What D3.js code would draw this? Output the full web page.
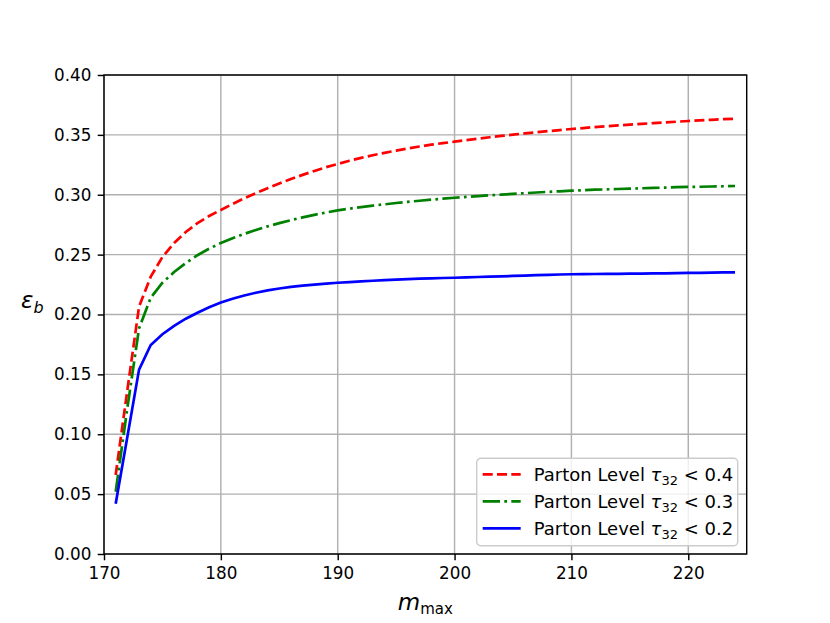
<!DOCTYPE html>
<html>
<head>
<meta charset="utf-8">
<script src="https://cdn.jsdelivr.net/npm/d3@7"></script>
<style>
    body { margin: 0; background: #fff; }
    svg { font-family: "DejaVu Sans", sans-serif; }
</style>
</head>
<body>
<script>
// m_max values, one point per GeV
var masses = d3.range(171, 225);

// efficiency for tau32 < 0.4 (red dashed)
var effTau04 = [0.066, 0.137, 0.2065, 0.2316, 0.2480, 0.2597, 0.2689, 0.2763, 0.2823, 0.2873,
    0.2923, 0.2970, 0.3014, 0.3055, 0.3094, 0.3131, 0.3166, 0.3199, 0.3230, 0.3257,
    0.3284, 0.3308, 0.3330, 0.3350, 0.3369, 0.3387, 0.3403, 0.3418, 0.3431, 0.3443,
    0.3456, 0.3468, 0.3480, 0.3491, 0.3502, 0.3512, 0.3522, 0.3531, 0.3540, 0.3549,
    0.3557, 0.3565, 0.3572, 0.3579, 0.3586, 0.3592, 0.3598, 0.3604, 0.3610, 0.3616,
    0.3621, 0.3626, 0.3631, 0.3635];

// efficiency for tau32 < 0.3 (green dash-dot)
var effTau03 = [0.052, 0.122, 0.1885, 0.2140, 0.2265, 0.2355, 0.2430, 0.2495, 0.2550, 0.2597,
    0.2637, 0.2673, 0.2706, 0.2736, 0.2763, 0.2788, 0.2811, 0.2832, 0.2852, 0.2870,
    0.2884, 0.2897, 0.2909, 0.2920, 0.2931, 0.2941, 0.2950, 0.2959, 0.2967, 0.2975,
    0.2982, 0.2989, 0.2995, 0.3001, 0.3007, 0.3013, 0.3019, 0.3024, 0.3029, 0.3034,
    0.3038, 0.3042, 0.3045, 0.3048, 0.3051, 0.3054, 0.3057, 0.3060, 0.3063, 0.3065,
    0.3067, 0.3069, 0.3071, 0.3073];

// efficiency for tau32 < 0.2 (blue solid)
var effTau02 = [0.042, 0.098, 0.154, 0.1745, 0.1835, 0.1905, 0.1965, 0.2015, 0.2060, 0.2100,
    0.2132, 0.2159, 0.2182, 0.2201, 0.2217, 0.2230, 0.2241, 0.2250, 0.2258, 0.2265,
    0.2271, 0.2277, 0.2282, 0.2287, 0.2291, 0.2295, 0.2299, 0.2302, 0.2305, 0.2307,
    0.2310, 0.2313, 0.2316, 0.2319, 0.2322, 0.2325, 0.2328, 0.2331, 0.2334, 0.2336,
    0.2337, 0.2338, 0.2339, 0.2340, 0.2341, 0.2342, 0.2343, 0.2344, 0.2345, 0.2347,
    0.2348, 0.2349, 0.2351, 0.2352];

var xTicks = [170, 180, 190, 200, 210, 220];
var yTicks = [0, 0.05, 0.10, 0.15, 0.20, 0.25, 0.30, 0.35, 0.40];

var seriesCuts = ["0.4", "0.3", "0.2"];
var seriesValues = [effTau04, effTau03, effTau02];
var seriesColors = ["#ff0000", "#008000", "#0000ff"];
var seriesDashes = ["10,4.3", "17.3,4.3,2.7,4.3", null];

var margin = {top: 75, right: 83.3, bottom: 69, left: 104},
    width = 830 - margin.left - margin.right,
    height = 623 - margin.top - margin.bottom;

var svg = d3.select("body")
    .append("svg")
    .attr("width", 830)
    .attr("height", 623);

var plot = svg.append("g")
    .attr("transform", "translate(" + margin.left + "," + margin.top + ")");

var x = d3.scaleLinear().domain([170, 225]).range([0, width]);
var y = d3.scaleLinear().domain([0, 0.40]).range([height, 0]);

// grid lines
plot.append("g").selectAll("line")
    .data(xTicks)
    .enter().append("line")
    .attr("x1", function(d) { return x(d); })
    .attr("x2", function(d) { return x(d); })
    .attr("y1", 0)
    .attr("y2", height)
    .attr("stroke", "#b0b0b0")
    .attr("stroke-width", 1.44);

plot.append("g").selectAll("line")
    .data(yTicks)
    .enter().append("line")
    .attr("x1", 0)
    .attr("x2", width)
    .attr("y1", function(d) { return y(d); })
    .attr("y2", function(d) { return y(d); })
    .attr("stroke", "#b0b0b0")
    .attr("stroke-width", 1.44);

// the three curves
var line = d3.line()
    .x(function(d, i) { return x(masses[i]); })
    .y(function(d) { return y(d); });

seriesValues.forEach(function(vals, i) {
    plot.append("path")
        .datum(vals)
        .attr("fill", "none")
        .attr("stroke", seriesColors[i])
        .attr("stroke-width", 2.7)
        .attr("stroke-dasharray", seriesDashes[i])
        .attr("d", line);
});

// axes
var xAxis = d3.axisBottom(x)
    .tickValues(xTicks)
    .tickSize(6.3)
    .tickPadding(6.3)
    .tickFormat(d3.format("d"));

var yAxis = d3.axisLeft(y)
    .tickValues(yTicks)
    .tickSize(6.3)
    .tickPadding(6.3)
    .tickFormat(d3.format(".2f"));

var gx = plot.append("g")
    .attr("transform", "translate(0," + height + ")")
    .call(xAxis);

var gy = plot.append("g")
    .call(yAxis);

[gx, gy].forEach(function(g) {
    g.attr("font-family", "DejaVu Sans").attr("font-size", 16.8);
    g.select(".domain").remove();
    g.selectAll(".tick line").attr("stroke", "#000").attr("stroke-width", 1.44);
    g.selectAll(".tick text").attr("fill", "#000");
});

// frame
plot.append("rect")
    .attr("width", width)
    .attr("height", height)
    .attr("fill", "none")
    .attr("stroke", "#000")
    .attr("stroke-width", 1.44);

// axis labels
var xLabel = svg.append("text")
    .attr("x", margin.left + width / 2)
    .attr("y", 610)
    .attr("text-anchor", "middle")
    .style("font-size", "23px");
xLabel.append("tspan").style("font-style", "italic").text("m");
xLabel.append("tspan").attr("dy", 4).style("font-size", "15px").text("max");

var yLabel = svg.append("text")
    .attr("x", 21)
    .attr("y", 308)
    .style("font-size", "23px");
yLabel.append("tspan").style("font-style", "italic").text("ε");
yLabel.append("tspan").attr("dy", 5).style("font-size", "16px").style("font-style", "italic").text("b");

// legend
var legend = plot.append("g")
    .attr("transform", "translate(" + (476.7 - margin.left) + "," + (458.3 - margin.top) + ")");

legend.append("rect")
    .attr("width", 261)
    .attr("height", 87.4)
    .attr("rx", 4)
    .attr("fill", "#fff")
    .attr("fill-opacity", 0.8)
    .attr("stroke", "#cccccc")
    .attr("stroke-width", 1.44);

var rows = legend.selectAll(".legend")
    .data(seriesCuts)
    .enter().append("g")
    .attr("class", "legend")
    .attr("transform", function(d, i) { return "translate(0," + (16 + i * 27) + ")"; });

rows.append("line")
    .attr("x1", 6)
    .attr("x2", 44)
    .attr("stroke", function(d, i) { return seriesColors[i]; })
    .attr("stroke-width", 2.7)
    .attr("stroke-dasharray", function(d, i) { return seriesDashes[i]; });

var rowText = rows.append("text")
    .attr("x", 57)
    .attr("y", 6.5)
    .style("font-size", "18px");
rowText.append("tspan").text("Parton Level ");
rowText.append("tspan").style("font-style", "italic").text("τ");
rowText.append("tspan").attr("dy", 4).style("font-size", "13px").text("32");
rowText.append("tspan").attr("dy", -4).text(function(d) { return " < " + d; });
</script>
</body>
</html>
